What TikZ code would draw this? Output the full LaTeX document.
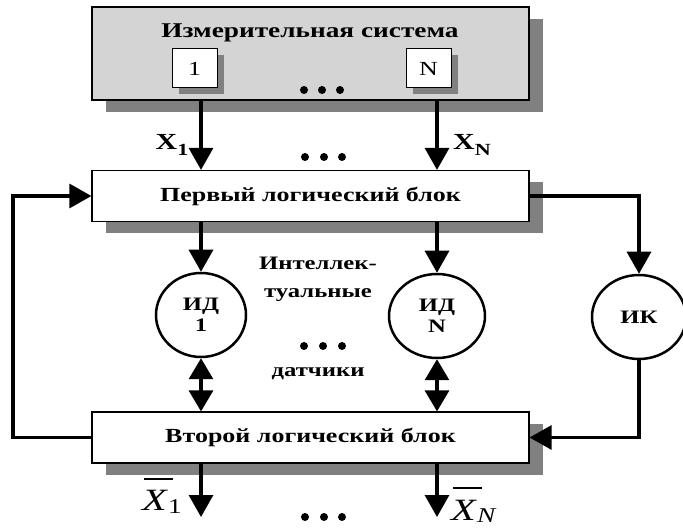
\documentclass[tikz,border=0pt]{standalone}
\usepackage{fontspec}
\setmainfont{Liberation Serif}
\newfontfamily\wf[FakeStretch=1.3]{Liberation Serif}
\usetikzlibrary{arrows.meta,shapes.geometric,shadows,patterns}
\begin{document}
\begin{tikzpicture}[x=1pt,y=-1pt,
  shad/.style={drop shadow={shadow xshift=14pt,shadow yshift=-12pt,fill=black!50,opacity=1}},
  sysbox/.style={draw,line width=1.2pt,fill=black!17,minimum width=437pt,minimum height=93pt,inner sep=0pt,shad},
  sensor/.style={draw,line width=1pt,fill=white,minimum width=45pt,minimum height=39pt,inner sep=0pt,
    drop shadow={shadow xshift=7pt,shadow yshift=-6pt,fill=black!50,opacity=1},font=\wf\fontsize{20}{22}\selectfont},
  blockbox/.style={draw,line width=1.2pt,fill=white,minimum width=437pt,minimum height=51pt,inner sep=0pt,shad,
    font=\wf\fontsize{20}{22}\selectfont\bfseries},
  sensnode/.style={ellipse,draw,line width=2.5pt,fill=white,minimum height=84pt,inner sep=0pt,align=center,
    font=\wf\fontsize{19}{21}\selectfont\bfseries},
  lbl/.style={font=\wf\fontsize{19}{22}\selectfont\bfseries,inner sep=0pt,align=center},
  outlbl/.style={inner sep=0pt,anchor=base west,font=\wf\fontsize{31}{31}\selectfont},
  arr/.style={line width=3.2pt,-{Triangle[length=22pt,width=24pt]}},
  darr/.style={line width=3.2pt,{Triangle[length=21pt,width=24pt]}-{Triangle[length=21pt,width=24pt]}},
  dot/.style={circle,fill=black,inner sep=0pt,minimum size=8pt}
]
\useasboundingbox (0,0) rectangle (683,529);

% measuring system
\node[sysbox] (sys) at (310.5,53.5) {};
\node[lbl,font=\wf\fontsize{21}{24}\selectfont\bfseries] (title) at (310,33) {Измерительная система};
\node[sensor] (s1) at (194.5,68.5) {1};
\node[sensor] (sN) at (428.5,68.5) {N};
\node[dot] (d1a) at (304,90) {};
\node[dot] (d1b) at (322,90) {};
\node[dot] (d1c) at (340,90) {};

% blocks
\node[blockbox] (b1) at (310.5,196) {Первый логический блок};
\node[blockbox] (b2) at (310.5,437.5) {Второй логический блок};

% sensors
\node[sensnode,minimum width=90pt] (id1) at (201,315) {ИД\\1};
\node[sensnode,minimum width=96pt] (idN) at (437,316) {ИД\\N};
\node[sensnode,minimum width=94pt] (ik) at (639,317) {ИК};

% arrows into first block
\draw[arr] (sys.south -| id1) -- (b1.north -| id1);
\draw[arr] (sys.south -| idN) -- (b1.north -| idN);
\node[lbl,font=\wf\fontsize{23}{24}\selectfont\bfseries] (x1) at (172,145) {X\raisebox{-6pt}{\fontsize{17}{17}\selectfont 1}};
\node[lbl,font=\wf\fontsize{23}{24}\selectfont\bfseries] (xN) at (472,145) {X\raisebox{-6pt}{\fontsize{17}{17}\selectfont N}};
\node[dot] (d2a) at (305,157) {};
\node[dot] (d2b) at (324,157) {};
\node[dot] (d2c) at (342,157) {};

% first block to sensors
\draw[arr] (b1.south -| id1) -- (id1.north);
\draw[arr] (b1.south -| idN) -- (idN.north);
\draw[arr] (b1.east) -- (b1.east -| ik) -- (ik.north);

% sensors to second block
\draw[darr] (id1.south) -- (b2.north -| id1);
\draw[darr] (idN.south) -- (b2.north -| idN);
\draw[arr] (ik.south) -- (ik |- b2.east) -- (b2.east);

% feedback
\coordinate (fbl) at (13,437.5);
\draw[arr] (b2.west) -- (fbl) -- (fbl |- b1.west) -- (b1.west);

% middle labels
\node[lbl] (t1) at (318,263) {Интеллек-};
\node[lbl] (t2) at (318,295) {туальные};
\node[dot] (d3a) at (304,346) {};
\node[dot] (d3b) at (323,346) {};
\node[dot] (d3c) at (342,346) {};
\node[lbl] (t3) at (318,374) {датчики};

% outputs
\coordinate (o1) at (201,517);
\coordinate (oN) at (437,517);
\draw[arr] (b2.south -| o1) -- (o1);
\draw[arr] (b2.south -| oN) -- (oN);
\node[outlbl] (ox1) at (142,510)
  {\rlap{\hspace{2pt}\rule[30pt]{29pt}{2pt}}\textit{X}\raisebox{-3pt}{\fontsize{21}{21}\selectfont 1}};
\node[outlbl] (oxN) at (451,520)
  {\rlap{\hspace{2pt}\rule[31pt]{29pt}{2pt}}\textit{X}\raisebox{-2pt}{\fontsize{21}{21}\selectfont\itshape N}};
\node[dot] (d4a) at (305,517) {};
\node[dot] (d4b) at (324,517) {};
\node[dot] (d4c) at (342,517) {};
\end{tikzpicture}
\end{document}
